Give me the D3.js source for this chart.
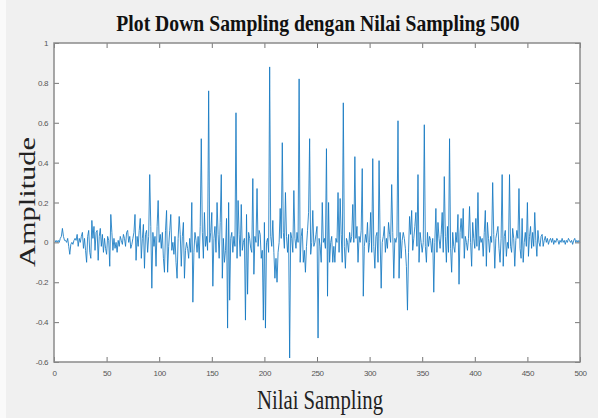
<!DOCTYPE html>
<html>
<head>
<meta charset="utf-8">
<script src="https://cdn.jsdelivr.net/npm/d3@7"></script>
<style>
  body { margin: 0; background: #f0f0f0; }
  svg { display: block; }
</style>
</head>
<body>
<svg id="chart" width="598" height="418"></svg>
<script>
// amplitude per sample (1..500)
var amplitude = [
  0.00, 0.01, 0.00, 0.01, 0.00, 0.02, 0.03, 0.07, 0.03, 0.01,
  0.01, 0.00, 0.02, -0.02, -0.06, -0.01, 0.00, -0.01, 0.01, 0.02,
  0.01, 0.04, -0.02, 0.02, 0.00, 0.03, 0.05, -0.03, 0.02, -0.04,
  -0.10, 0.03, 0.06, -0.05, -0.08, 0.11, 0.02, 0.08, -0.04, 0.05,
  0.06, -0.09, 0.03, 0.07, -0.02, 0.04, -0.05, 0.02, -0.03, -0.06,
  0.03, 0.01, -0.12, 0.14, 0.05, -0.04, 0.02, -0.03, 0.00, -0.05,
  0.01, -0.02, 0.03, 0.01, -0.01, 0.04, 0.02, -0.02, 0.05, 0.06,
  0.00, 0.03, -0.03, -0.01, 0.02, 0.05, 0.14, -0.09, 0.03, -0.02,
  0.06, 0.12, -0.08, 0.02, 0.09, -0.13, 0.04, 0.06, -0.05, 0.03,
  0.34, 0.08, -0.23, 0.05, -0.02, 0.03, -0.12, 0.08, 0.21, 0.00,
  0.04, -0.03, 0.05, -0.08, -0.15, 0.06, 0.16, -0.15, -0.02, 0.06,
  0.14, -0.04, 0.00, -0.06, 0.03, -0.10, -0.18, 0.02, 0.13, 0.04,
  -0.12, 0.03, 0.10, -0.18, -0.04, 0.00, -0.03, -0.08, 0.02, -0.05,
  0.20, -0.30, -0.05, 0.05, 0.01, -0.05, 0.03, -0.08, 0.08, 0.52,
  0.05, -0.08, 0.15, -0.02, 0.03, -0.04, 0.76, 0.00, 0.05, 0.15,
  -0.22, 0.02, 0.08, -0.05, 0.20, 0.04, -0.08, 0.10, 0.34, -0.18,
  0.02, -0.10, -0.04, 0.12, -0.43, 0.20, -0.29, 0.02, 0.05, -0.05,
  0.03, -0.02, 0.65, -0.08, 0.21, 0.04, -0.07, 0.19, -0.04, 0.00,
  0.02, -0.39, 0.14, -0.26, 0.05, 0.02, -0.03, -0.05, 0.32, -0.16,
  0.03, 0.00, 0.27, -0.02, 0.06, 0.04, -0.08, -0.04, -0.39, 0.10,
  -0.43, 0.00, 0.02, -0.05, 0.88, 0.03, -0.02, 0.11, -0.05, -0.18,
  -0.08, -0.20, -0.05, 0.00, 0.17, 0.02, 0.50, 0.05, -0.03, 0.25,
  0.03, -0.05, 0.04, -0.58, 0.05, 0.02, -0.05, 0.26, 0.02, -0.03,
  0.05, 0.00, 0.82, -0.10, 0.03, 0.07, -0.10, -0.04, -0.15, -0.02,
  0.06, 0.15, 0.52, -0.06, 0.00, 0.16, -0.02, 0.00, 0.04, 0.08,
  -0.48, 0.02, -0.02, -0.10, 0.20, 0.00, 0.02, -0.03, 0.47, -0.27,
  0.20, -0.10, 0.00, 0.03, -0.10, -0.02, -0.10, 0.02, 0.00, 0.25,
  -0.05, 0.22, 0.04, -0.10, 0.70, -0.02, -0.13, 0.02, 0.00, -0.05,
  0.05, 0.00, 0.03, 0.19, 0.00, 0.43, 0.02, 0.08, -0.10, 0.03,
  0.00, 0.06, 0.37, -0.27, -0.02, 0.04, 0.00, 0.10, -0.05, 0.00,
  0.15, -0.05, 0.42, -0.02, -0.13, 0.03, 0.05, -0.10, 0.41, 0.02,
  -0.23, 0.00, 0.03, 0.08, -0.05, 0.02, -0.03, 0.10, 0.04, 0.00,
  0.29, 0.05, -0.18, 0.02, 0.00, 0.03, 0.61, -0.18, 0.05, -0.08,
  0.01, 0.05, 0.02, -0.03, -0.12, -0.34, -0.05, 0.13, 0.04, 0.16,
  -0.04, 0.02, 0.08, 0.15, -0.02, 0.34, -0.10, 0.05, 0.00, -0.05,
  0.00, 0.59, -0.02, -0.10, 0.05, -0.02, 0.03, 0.01, -0.05, 0.02,
  -0.25, 0.00, 0.17, -0.05, 0.10, 0.02, -0.03, 0.04, 0.15, -0.05,
  0.33, 0.03, -0.10, 0.08, -0.05, 0.52, -0.03, -0.15, 0.05, -0.02,
  -0.05, 0.05, 0.00, 0.14, -0.21, 0.05, 0.12, 0.02, 0.17, -0.08,
  0.03, 0.00, -0.04, 0.02, 0.18, 0.00, -0.12, 0.10, 0.02, -0.03,
  0.12, -0.02, 0.25, -0.04, 0.03, 0.00, 0.02, -0.07, 0.05, 0.16,
  -0.12, 0.10, 0.02, -0.05, 0.03, 0.00, 0.30, 0.04, -0.13, 0.02,
  0.05, 0.08, -0.03, -0.10, 0.02, 0.34, -0.12, 0.03, 0.06, -0.07,
  0.00, -0.03, 0.34, -0.02, -0.05, 0.07, 0.02, -0.12, 0.01, 0.06,
  0.02, 0.27, -0.03, -0.08, 0.12, -0.10, 0.00, 0.05, -0.02, 0.20,
  -0.07, 0.03, 0.08, -0.03, 0.05, -0.02, 0.15, 0.01, -0.07, 0.06,
  0.00, -0.02, 0.03, 0.04, -0.02, 0.01, 0.03, 0.00, 0.02, -0.01,
  0.01, 0.02, 0.00, 0.02, -0.01, 0.01, 0.00, 0.02, 0.01, -0.01,
  0.01, 0.00, 0.02, 0.00, 0.01, -0.01, 0.01, 0.00, 0.02, 0.01,
  0.00, 0.01, -0.01, 0.01, 0.02, 0.00, 0.01, 0.00, 0.01, 0.00
];
var xTicks = [0, 50, 100, 150, 200, 250, 300, 350, 400, 450, 500];
var yTicks = [-0.6, -0.4, -0.2, 0, 0.2, 0.4, 0.6, 0.8, 1];

var svg = d3.select('#chart');
var plotL = 54, plotR = 580, plotT = 43, plotB = 362;

var x = d3.scaleLinear().domain([0, 500]).range([plotL, plotR]);
var y = d3.scaleLinear().domain([-0.6, 1]).range([plotB, plotT]);

svg.append('rect').attr('x', 0).attr('y', 0).attr('width', 6).attr('height', 418).style('fill', '#fafafa');

svg.append('rect')
	.attr('x', plotL).attr('y', plotT)
	.attr('width', plotR - plotL).attr('height', plotB - plotT)
	.style('fill', 'white');

// the signal
var line = d3.line()
	.x(function(d, i) { return x(i + 1); })
	.y(function(d) { return y(d); });

svg.append('path')
	.datum(amplitude)
	.attr('d', line)
	.style('fill', 'none')
	.style('stroke', '#1479c2')
	.style('stroke-width', 0.85)
	.style('stroke-linejoin', 'round');

// axes, matlab box style: ticks inside on all four sides
function styleAxis(g) {
	g.select('.domain').remove();
	g.selectAll('.tick line').style('stroke', '#777').style('stroke-width', 1);
	g.selectAll('.tick text')
		.style('font-family', 'Liberation Sans, Arial, sans-serif')
		.style('font-size', '8px')
		.style('letter-spacing', '-0.4px')
		.style('fill', '#555');
}

svg.append('g').attr('transform', 'translate(0,' + plotB + ')')
	.call(d3.axisBottom(x).tickValues(xTicks).tickFormat(d3.format('d')).tickSizeInner(-5).tickPadding(8))
	.call(styleAxis);
svg.append('g').attr('transform', 'translate(0,' + plotT + ')')
	.call(d3.axisTop(x).tickValues(xTicks).tickFormat('').tickSizeInner(-5))
	.call(styleAxis);
svg.append('g').attr('transform', 'translate(' + plotL + ',0)')
	.call(d3.axisLeft(y).tickValues(yTicks).tickFormat(function(d) { return String(+d.toFixed(1)); }).tickSizeInner(-5).tickPadding(6))
	.call(styleAxis);
svg.append('g').attr('transform', 'translate(' + plotR + ',0)')
	.call(d3.axisRight(y).tickValues(yTicks).tickFormat('').tickSizeInner(-5))
	.call(styleAxis);

svg.append('rect')
	.attr('x', plotL).attr('y', plotT)
	.attr('width', plotR - plotL).attr('height', plotB - plotT)
	.style('fill', 'none')
	.style('stroke', '#8a8a8a')
	.style('stroke-width', 1.5);

// texts
svg.append('text')
	.attr('transform', 'translate(318,31) scale(0.82,1)')
	.attr('text-anchor', 'middle')
	.style('font-family', 'Liberation Serif, Times New Roman, serif')
	.style('font-weight', 'bold')
	.style('font-size', '24px')
	.style('fill', '#111')
	.text('Plot Down Sampling dengan Nilai Sampling 500');

svg.append('text')
	.attr('x', 320).attr('y', 409)
	.attr('text-anchor', 'middle')
	.attr('textLength', 126).attr('lengthAdjust', 'spacingAndGlyphs')
	.style('font-family', 'Liberation Serif, Times New Roman, serif')
	.style('font-size', '27px')
	.style('fill', '#222')
	.text('Nilai Sampling');

svg.append('text')
	.attr('transform', 'translate(35,202) rotate(-90)')
	.attr('text-anchor', 'middle')
	.attr('textLength', 130).attr('lengthAdjust', 'spacingAndGlyphs')
	.style('font-family', 'Liberation Serif, Times New Roman, serif')
	.style('font-size', '24px')
	.style('fill', '#222')
	.text('Amplitude');
</script>
</body>
</html>
